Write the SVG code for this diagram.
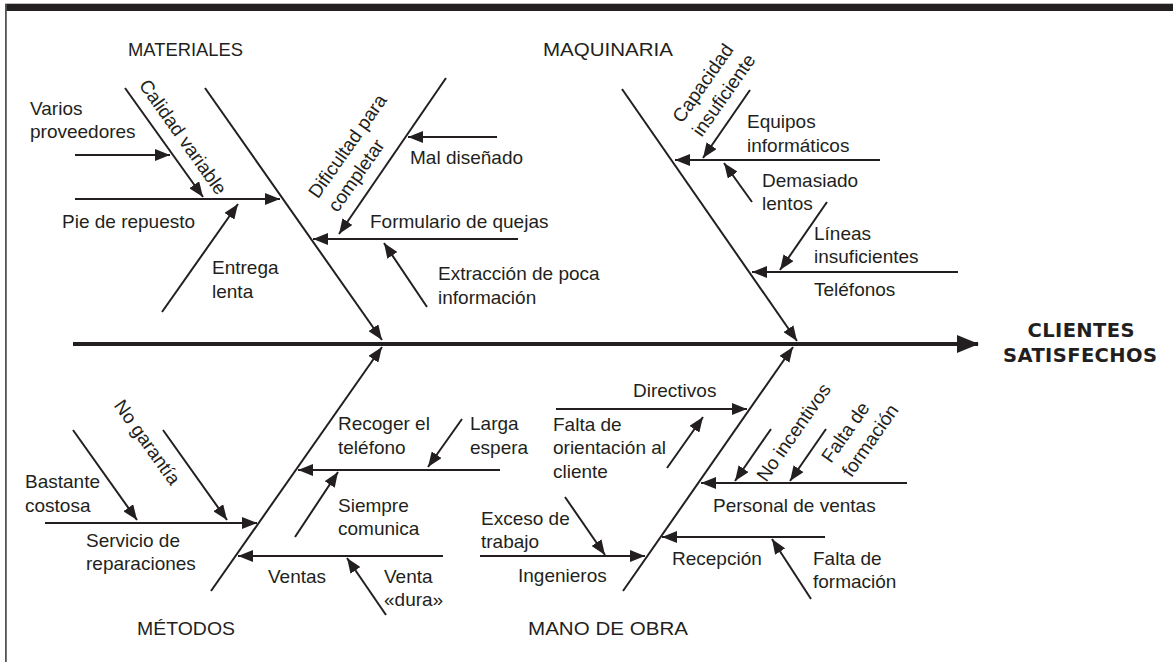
<svg xmlns="http://www.w3.org/2000/svg" width="1173" height="662" viewBox="0 0 1173 662">
<style>
text{font-family:"Liberation Sans",Arial,sans-serif;font-size:19px;fill:#231f20}
.cat{font-size:19px}
.eff{font-family:"DejaVu Sans","Liberation Sans",sans-serif;font-weight:bold;font-size:19.5px}
.l{stroke:#231f20;stroke-width:2;fill:none}
.a{stroke:#231f20;stroke-width:2;fill:none;marker-end:url(#ah)}
.sp{stroke:#231f20;stroke-width:4;fill:none;marker-end:url(#big)}
</style>
<defs>
<marker id="ah" markerUnits="userSpaceOnUse" markerWidth="16" markerHeight="12" refX="15" refY="6" orient="auto"><path d="M0,0 L15,6 L0,12 z" fill="#231f20"/></marker>
<marker id="big" markerUnits="userSpaceOnUse" markerWidth="22" markerHeight="18" refX="21" refY="9" orient="auto"><path d="M0,0 L22,9 L0,18 z" fill="#231f20"/></marker>
</defs>
<rect width="1173" height="662" fill="#fff"/>
<rect x="5" y="3" width="1168" height="1.2" fill="#bdbdbd"/>
<rect x="5" y="4" width="1168" height="7" fill="#231f20"/>
<rect x="5" y="4" width="1.8" height="658" fill="#555"/>

<g id="connectors">
<line class="sp" x1="73" y1="344" x2="978" y2="344"/>
<!-- Materiales -->
<line class="a" x1="205" y1="88" x2="382" y2="340"/>
<line class="a" x1="125" y1="88" x2="203" y2="197"/>
<line class="a" x1="75" y1="155" x2="170" y2="155"/>
<line class="a" x1="75" y1="199" x2="280" y2="199"/>
<line class="a" x1="162" y1="312" x2="238" y2="204"/>
<line class="a" x1="446" y1="78" x2="339" y2="234"/>
<line class="a" x1="497" y1="137" x2="408" y2="137"/>
<line class="a" x1="518" y1="239" x2="313" y2="239"/>
<line class="a" x1="427" y1="307" x2="384" y2="243"/>
<!-- Maquinaria -->
<line class="a" x1="622" y1="89" x2="797" y2="341"/>
<line class="a" x1="750" y1="90" x2="703" y2="158"/>
<line class="a" x1="880" y1="160" x2="675" y2="160"/>
<line class="a" x1="752" y1="202" x2="724" y2="163"/>
<line class="a" x1="827" y1="202" x2="780" y2="270"/>
<line class="a" x1="958" y1="272" x2="752" y2="272"/>
<!-- Métodos -->
<line class="a" x1="211" y1="591" x2="382" y2="347"/>
<line class="a" x1="163" y1="430" x2="227" y2="520"/>
<line class="a" x1="73" y1="430" x2="137" y2="520"/>
<line class="a" x1="45" y1="523" x2="257" y2="523"/>
<line class="a" x1="500" y1="470" x2="298" y2="470"/>
<line class="a" x1="462" y1="419" x2="428" y2="467"/>
<line class="a" x1="295" y1="537" x2="338" y2="472"/>
<line class="a" x1="443" y1="556" x2="238" y2="556"/>
<line class="a" x1="386" y1="615" x2="347" y2="558"/>
<!-- Mano de obra -->
<line class="a" x1="623" y1="591" x2="793" y2="347"/>
<line class="a" x1="556" y1="409" x2="747" y2="409"/>
<line class="a" x1="667" y1="468" x2="703" y2="417"/>
<line class="a" x1="907" y1="483" x2="701" y2="483"/>
<line class="a" x1="771" y1="429" x2="735" y2="481"/>
<line class="a" x1="826" y1="429" x2="790" y2="481"/>
<line class="a" x1="480" y1="556" x2="645" y2="556"/>
<line class="a" x1="565" y1="497" x2="605" y2="555"/>
<line class="a" x1="825" y1="537" x2="662" y2="537"/>
<line class="a" x1="811" y1="599" x2="772" y2="539"/>
</g>

<g id="effect"><text class="eff" text-anchor="middle"><tspan x="1081" y="337" textLength="107" lengthAdjust="spacing">CLIENTES</tspan><tspan x="1080" y="362" textLength="154" lengthAdjust="spacing">SATISFECHOS</tspan></text></g>

<g id="materiales">
<text class="cat" x="128" y="56" textLength="115" lengthAdjust="spacingAndGlyphs">MATERIALES</text>
<text x="30" y="115">Varios</text><text x="30" y="138">proveedores</text>
<text x="62" y="228">Pie de repuesto</text>
<text x="212" y="274">Entrega</text><text x="212" y="298">lenta</text>
<text text-anchor="middle" transform="translate(177.6,140.7) rotate(54.6)">Calidad variable</text>
<text transform="translate(317.9,199.6) rotate(-55)"><tspan x="0" y="0">Dificultad para</tspan><tspan x="0" y="24">completar</tspan></text>
<text x="410" y="164">Mal diseñado</text>
<text x="370" y="228">Formulario de quejas</text>
<text x="438" y="280">Extracción de poca</text><text x="438" y="304">información</text>
</g>

<g id="maquinaria">
<text class="cat" x="543" y="56" textLength="130" lengthAdjust="spacingAndGlyphs">MAQUINARIA</text>
<text transform="translate(682.1,124) rotate(-55)"><tspan x="0" y="0">Capacidad</tspan><tspan x="0" y="24">insuficiente</tspan></text>
<text x="747" y="128">Equipos</text><text x="747" y="152">informáticos</text>
<text x="762" y="187">Demasiado</text><text x="762" y="210">lentos</text>
<text x="814" y="240">Líneas</text><text x="814" y="263">insuficientes</text>
<text x="814" y="296">Teléfonos</text>
</g>

<g id="metodos">
<text class="cat" x="137" y="635" textLength="98" lengthAdjust="spacingAndGlyphs">MÉTODOS</text>
<text x="25" y="488">Bastante</text><text x="25" y="512">costosa</text>
<text text-anchor="middle" transform="translate(142,446) rotate(54.6)">No garantía</text>
<text x="86" y="547">Servicio de</text><text x="86" y="570">reparaciones</text>
<text x="338" y="430">Recoger el</text><text x="338" y="454">teléfono</text>
<text x="470" y="430">Larga</text><text x="470" y="454">espera</text>
<text x="338" y="512">Siempre</text><text x="338" y="535">comunica</text>
<text x="268" y="583">Ventas</text>
<text x="384" y="583">Venta</text><text x="384" y="606">«dura»</text>
</g>

<g id="mano-de-obra">
<text class="cat" x="528" y="635" textLength="160" lengthAdjust="spacingAndGlyphs">MANO DE OBRA</text>
<text x="633" y="397">Directivos</text>
<text x="553" y="431">Falta de</text><text x="553" y="454">orientación al</text><text x="553" y="478">cliente</text>
<text text-anchor="middle" transform="translate(799,436) rotate(-55)">No incentivos</text>
<text transform="translate(831,464) rotate(-55)"><tspan x="0" y="0">Falta de</tspan><tspan x="0" y="25">formación</tspan></text>
<text x="713" y="512">Personal de ventas</text>
<text x="481" y="525">Exceso de</text><text x="481" y="548">trabajo</text>
<text x="518" y="582">Ingenieros</text>
<text x="672" y="565">Recepción</text>
<text x="813" y="565">Falta de</text><text x="813" y="588">formación</text>
</g>
</svg>
